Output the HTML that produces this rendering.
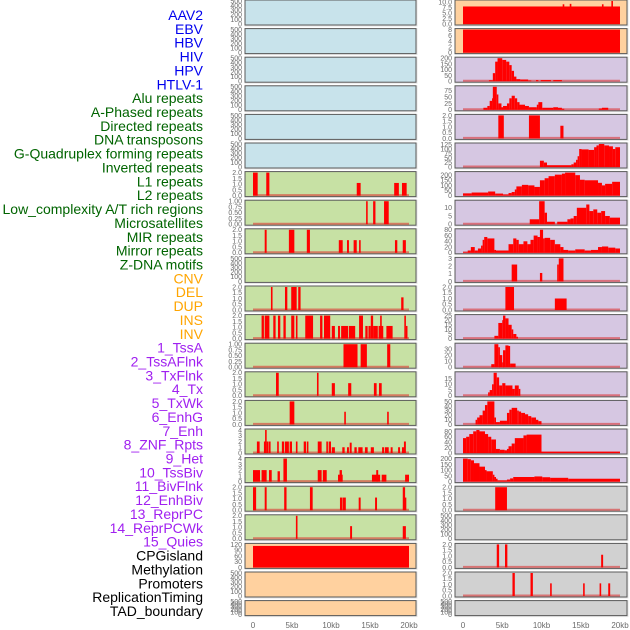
<!DOCTYPE html>
<html><head><meta charset="utf-8"><style>
body{margin:0;background:#fff;width:630px;height:630px;overflow:hidden}
svg{display:block;font-family:"Liberation Sans",sans-serif}
</style></head><body>
<svg id="chart" width="630" height="630" viewBox="0 0 630 630"></svg>
<script>
const labels=["AAV2","EBV","HBV","HIV","HPV","HTLV-1","Alu repeats","A-Phased repeats","Directed repeats","DNA transposons","G-Quadruplex forming repeats","Inverted repeats","L1 repeats","L2 repeats","Low_complexity A/T rich regions","Microsatellites","MIR repeats","Mirror repeats","Z-DNA motifs","CNV","DEL","DUP","INS","INV","1_TssA","2_TssAFlnk","3_TxFlnk","4_Tx","5_TxWk","6_EnhG","7_Enh","8_ZNF_Rpts","9_Het","10_TssBiv","11_BivFlnk","12_EnhBiv","13_ReprPC","14_ReprPCWk","15_Quies","CPGisland","Methylation","Promoters","ReplicationTiming","TAD_boundary"];
const labelGroups=[0,0,0,0,0,0,1,1,1,1,1,1,1,1,1,1,1,1,1,2,2,2,2,2,3,3,3,3,3,3,3,3,3,3,3,3,3,3,3,4,4,4,4,4];
const xTickValues=[0,5,10,15,20];
const xTickLabels=["0","5kb","10kb","15kb","20kb"];
const T500=["0","100","200","300","400","500"];
const T2=["0.0","0.5","1.0","1.5","2.0"];
const T1=["0.00","0.25","0.50","0.75","1.00"];
const leftTicks=[T500,T500,T500,T500,T500,T500,T2,T1,T2,T500,T2,T2,T1,T2,T2,["0","1","2","3","4"],["0","1","2","3","4"],T2,T2,["0","30","60","90","120"],T500,T500];
const rightTicks=[["0.0","2.5","5.0","7.5","10.0"],["0","2","4","6","8"],["0","50","100","150","200"],["0","25","50","75"],T2,["0","25","50","75","100","125"],["0","50","100","150","200"],["0","5","10"],["0","20","40","60","80"],["0","1","2","3"],T2,["0","5","10","15","20","25"],["0","10","20","30"],["0","5","10","15"],["0","10","20","30","40","50"],["0","20","40","60","80"],["0","50","100","150","200"],T2,T500,T2,T2,T500];
// segments: [startKb, endKb, value]
const leftData=[[],[],[],[],[],[],
[[0,0.6,2],[1.7,2.1,2],[13.3,13.8,1.1],[18.1,18.7,1.1],[19.1,19.7,1.1]],
[[14.5,14.7,1],[15.4,15.7,1],[16.8,17.4,1]],
[[1.5,1.75,2],[4.6,5.3,2],[6.9,7.3,2],[11.0,11.5,1.1],[12.05,12.3,1.1],[12.9,13.3,1.1],[13.6,13.8,1.1],[18.2,18.5,1.1],[19.2,19.6,1.1]],
[],
[[2.3,2.5,2],[4.1,4.4,2],[4.9,5.6,2],[5.8,6.1,2],[19.0,19.3,1.1]],
[[1.1,1.4,2],[1.5,2.1,2],[2.6,2.9,2],[3.2,3.5,2],[3.9,4.2,2],[4.9,5.3,2],[5.5,5.7,2],[6.7,7.7,2],[8.6,8.9,2],[9.1,9.9,2],[10.1,10.5,1.1],[10.9,11.15,1.1],[11.3,12.2,1.1],[12.3,13.1,1.1],[13.6,14.1,2],[14.4,14.7,1.1],[14.8,15.1,1.1],[15.1,15.4,2],[15.4,16.0,1.1],[16.1,16.7,1.1],[16.3,16.5,2],[17.1,17.9,1.1],[19.4,19.6,2],[19.6,19.8,1.1]],
[[11.6,13.4,1],[13.8,14.6,1],[17.2,17.6,1]],
[[2.95,3.3,2],[8.2,8.4,2],[10.1,10.5,1.1],[12.2,12.6,1.1],[15.5,15.85,1.1],[16.15,16.5,1.1]],
[[4.7,5.3,2],[11.7,11.9,1.1],[17.2,17.4,1.1]],
[[0.5,0.85,2],[1.4,1.6,2],[1.55,1.75,4],[1.75,2.0,2],[2.05,2.25,2],[3.1,3.3,2],[3.7,4.0,2],[4.1,4.6,2],[4.7,5.0,2],[5.5,5.7,2],[6.5,6.8,2],[6.9,7.1,2],[8.3,8.8,2],[9.4,9.6,2],[9.7,10.0,2],[10.1,10.5,1],[11.45,11.75,1],[12.05,12.3,1],[12.4,12.65,1.8],[13.0,13.3,1],[13.5,14.05,1],[14.35,14.7,1],[15.1,15.5,1],[16.55,16.8,1],[16.9,17.4,1],[17.65,17.9,1],[18.6,18.85,1],[19.1,19.5,1],[19.35,19.6,2]],
[[0,0.9,2],[1.1,1.75,2],[2.05,2.4,2],[3.15,3.45,1.8],[3.9,4.35,4],[8.3,8.8,2],[8.95,9.45,2],[10.9,11.5,1.2],[11.1,11.4,2],[15.25,16.3,1.2],[15.8,16.05,2],[16.5,17.1,1.2],[19.5,20,1.2]],
[[0,0.4,2],[1.5,1.75,2],[4.0,4.3,2],[7.3,7.65,2],[11.15,11.45,1.1],[11.5,11.9,1.1],[13.55,13.8,1.1],[15.65,15.9,1.1],[19.2,19.5,2],[19.45,19.6,1.1]],
[[5.5,5.7,2],[12.45,12.7,1.1],[19.2,19.6,1.1]],
[[0,20,112]],
[],[]];
const rightData=[
[[0,20,8],[12.7,12.85,9],[13.6,13.75,9.2],[17.7,17.85,9],[18.9,19.05,10.5]],
[[0,20,8]],
[[3.3,3.8,8],[3.8,4.1,70],[4.1,4.4,170],[4.4,5.0,200],[5.0,5.5,185],[5.5,5.9,170],[5.9,6.2,140],[6.2,6.5,90],[6.5,6.8,40],[6.8,7.3,18],[7.3,8.3,15],[8.3,8.7,6],[9.3,9.6,10],[9.9,11.2,10],[11.5,12.6,10]],
[[2.6,3.1,8],[3.1,3.4,15],[3.4,3.7,35],[3.7,3.8,45],[3.8,4.3,90],[4.3,4.5,60],[4.5,4.9,25],[4.9,5.1,10],[5.1,5.6,15],[5.6,5.9,25],[5.9,6.2,45],[6.2,6.6,55],[6.6,6.9,45],[6.9,7.2,30],[7.2,7.9,20],[7.9,8.4,15],[8.4,9.4,10],[9.4,9.6,20],[9.6,10.1,30],[10.1,11.5,8],[11.5,12.1,10],[12.1,12.6,8],[12.6,12.9,4],[17.3,17.7,5],[17.7,18.5,8]],
[[4.5,5.2,2],[8.4,9.8,2],[12.4,12.8,1.1]],
[[9.8,10.3,35],[10.3,10.7,25],[10.7,13.8,10],[13.8,14.1,15],[14.1,14.4,25],[14.4,14.6,40],[14.6,14.8,60],[14.8,15.1,100],[15.1,16.0,98],[16.0,16.7,95],[16.7,17.0,110],[17.0,17.3,120],[17.3,18.0,128],[18.0,18.6,120],[18.6,19.1,115],[19.1,19.4,100],[19.4,20,110]],
[[0,1.1,22],[1.1,3.2,30],[3.2,4.1,40],[4.1,5.1,20],[5.1,5.8,10],[5.8,6.2,25],[6.2,6.6,35],[6.6,6.8,60],[6.8,7.5,90],[7.5,8.3,105],[8.3,9.1,100],[9.1,9.8,85],[9.8,10.4,150],[10.4,10.9,170],[10.9,11.7,190],[11.7,12.6,205],[12.6,13.0,215],[13.0,14.3,225],[14.3,14.9,200],[14.9,15.5,155],[15.5,17.2,150],[17.2,17.7,125],[17.7,18.1,100],[18.1,19.0,115],[19.0,20,135]],
[[8.5,9.7,3],[9.7,10.4,14],[10.4,10.7,7],[10.7,11.7,1.5],[12.0,13.3,1.5],[13.3,13.7,3],[13.7,14.1,3.5],[14.1,14.5,5],[14.5,15.7,10],[15.7,16.1,12],[16.1,16.6,8],[16.6,17.1,9],[17.1,17.6,7],[17.6,18.1,8],[18.1,18.7,5],[18.7,20,4]],
[[0,0.6,2],[0.6,1.0,8],[1.0,1.5,20],[1.5,1.9,8],[1.9,2.3,15],[2.3,2.5,25],[2.5,2.7,45],[2.7,3.1,55],[3.1,4.0,50],[4.0,4.2,10],[4.2,5.8,8],[5.8,6.4,30],[6.4,6.8,50],[6.8,7.1,45],[7.1,7.7,30],[7.7,8.2,40],[8.2,8.6,30],[8.6,9.0,45],[9.0,9.5,60],[9.5,9.8,55],[9.8,10.2,80],[10.2,10.4,50],[10.4,11.1,52],[11.1,11.7,45],[11.7,12.4,30],[12.4,12.8,20],[12.8,13.4,10],[13.4,14.3,8],[14.3,15.5,12],[15.5,16.3,8],[16.3,17.2,10],[17.2,17.7,20],[17.7,18.5,22],[18.5,19.4,18],[19.4,20,15]],
[[6.2,6.9,2.2],[9.8,10.1,1.1],[12.0,12.2,2.2],[12.2,12.8,3]],
[[5.4,6.5,2],[11.7,13.2,1]],
[[4.0,4.5,3],[4.5,5.0,17],[5.0,5.1,20],[5.1,5.4,25],[5.4,5.8,22],[5.8,6.2,15],[6.2,6.4,10],[6.4,6.8,5],[6.8,7.0,2]],
[[3.6,4.0,5],[4.0,4.5,38],[4.5,4.6,33],[4.6,5.0,20],[5.0,5.1,8],[5.1,5.4,28],[5.4,5.8,36],[5.8,6.0,35],[6.0,6.7,6]],
[[3.2,3.4,3],[3.4,3.7,5],[3.7,3.9,10],[3.9,4.3,20],[4.3,4.6,16],[4.6,5.0,9],[5.0,5.4,11],[5.4,6.3,9],[6.3,6.6,6],[6.6,7.1,9],[7.1,7.2,6]],
[[1.6,1.8,10],[1.8,2.1,15],[2.1,2.5,20],[2.5,2.8,30],[2.8,3.1,42],[3.1,4.0,50],[4.0,4.2,15],[4.2,4.7,5],[4.7,5.6,8],[5.6,5.9,25],[5.9,6.2,32],[6.2,6.9,36],[6.9,7.1,30],[7.1,7.4,28],[7.4,7.9,25],[7.9,8.3,22],[8.3,8.7,18],[8.7,9.3,15],[9.3,9.6,10],[9.6,10.0,7]],
[[0,0.4,55],[0.4,0.8,60],[0.8,1.3,70],[1.3,1.7,80],[1.7,2.1,85],[2.1,2.8,80],[2.8,3.2,70],[3.2,3.6,60],[3.6,4.2,50],[4.2,4.7,15],[4.7,5.3,12],[5.3,5.6,10],[5.6,5.8,15],[5.8,6.2,25],[6.2,6.6,35],[6.6,7.7,55],[7.7,8.1,65],[8.1,10.0,68],[10.0,20,5]],
[[0,0.6,200],[0.6,1.0,195],[1.0,1.4,185],[1.4,2.1,160],[2.1,2.8,130],[2.8,3.0,100],[3.0,3.8,90],[3.8,4.0,60],[4.0,4.2,40],[4.2,4.4,25],[4.4,5.6,10],[5.6,6.0,18],[6.0,6.4,28],[6.4,9.1,40],[9.1,10.1,45],[10.1,11.1,38],[11.1,13.4,33],[13.4,20,25]],
[[4.1,5.6,2]],
[],
[[4.3,4.6,2],[5.35,5.65,2],[17.6,17.85,1.1]],
[[6.3,6.6,2],[8.6,8.9,2],[11.1,11.3,1.1],[15.3,15.5,1.1],[17.4,17.6,1.1],[18.5,18.75,1.1]],
[]];
const leftBg=["blue","blue","blue","blue","blue","blue","green","green","green","green","green","green","green","green","green","green","green","green","green","peach","peach","peach"];
const rightBg=["peach","peach","purple","purple","purple","purple","purple","purple","purple","purple","purple","purple","purple","purple","purple","purple","purple","gray","gray","gray","gray","gray"];
const bgColors={blue:"#c8e3eb",green:"#c7e1a4",peach:"#ffd19f",purple:"#d6c7e2",gray:"#d1d1d1"};
const groupColors=["#0000ee","#006400","#ffa500","#a020f0","#000000"];

const svg=document.getElementById('chart');
const NS="http://www.w3.org/2000/svg";
function mk(tag,attrs,parent){const e=document.createElementNS(NS,tag);for(const k in attrs)e.setAttribute(k,attrs[k]);(parent||svg).appendChild(e);return e;}

labels.forEach((t,j)=>{
  const el=mk('text',{x:203,y:(20+13.86*j).toFixed(1),'text-anchor':'end','font-size':'14',fill:groupColors[labelGroups[j]]});
  el.textContent=t;
  
  
});

const cols=[{x:245,w:171,x0:253,s:7.8,tickX:242,data:leftData,ticks:leftTicks,bg:leftBg,name:'left'},
            {x:455,w:172,x0:463,s:7.85,tickX:452,data:rightData,ticks:rightTicks,bg:rightBg,name:'right'}];
cols.forEach(c=>{
  for(let i=0;i<22;i++){
    const top=28.6*i, h=(i===21?15:25), bottom=top+h;
    const g=mk('g',{});
    
    
    mk('rect',{x:c.x-0.5,y:top-0.5,width:c.w+2,height:h+2,fill:'#e6e6e6'},g);
    const bg=mk('rect',{x:c.x,y:top,width:c.w,height:h,fill:bgColors[c.bg[i]],stroke:'#5a5a5a','stroke-width':1},g);
    
    
    const segs=c.data[i], tl=c.ticks[i];
    const lastTick=parseFloat(tl[tl.length-1]);
    let dmax=0;segs.forEach(s=>{if(s[2]>dmax)dmax=s[2];});
    const yMax=Math.max(dmax,lastTick);
    const y0=bottom-1, span=h-2;
    const yS=v=>y0-v/yMax*span;
    const xS=kb=>c.x0+kb*c.s;
    if(segs.length){
      const bl=mk('line',{x1:xS(0),x2:xS(20),y1:y0-0.5,y2:y0-0.5,stroke:'rgba(220,40,40,0.55)','stroke-width':2},g);
      
      
    }
    segs.forEach(s=>{
      const x1=xS(s[0]),x2=xS(s[1]);
      const r=mk('rect',{x:x1.toFixed(2),y:yS(s[2]).toFixed(2),width:Math.max(1.6,x2-x1).toFixed(2),height:(y0-yS(s[2])).toFixed(2),fill:'#ff0000'},g);
      
      
    });
    tl.forEach(t=>{
      const tt=mk('text',{x:c.tickX,y:(yS(parseFloat(t))+2.4).toFixed(1),'text-anchor':'end','font-size':'7',fill:'#6a6a6a'},g);
      tt.textContent=t;
      
      
    });
  }
  xTickValues.forEach((v,k)=>{
    const t=mk('text',{x:c.x0+v*c.s,y:628,'text-anchor':'middle','font-size':'8',fill:'#6a6a6a'});
    t.textContent=xTickLabels[k];
    
    
  });
});
</script>
</body></html>
